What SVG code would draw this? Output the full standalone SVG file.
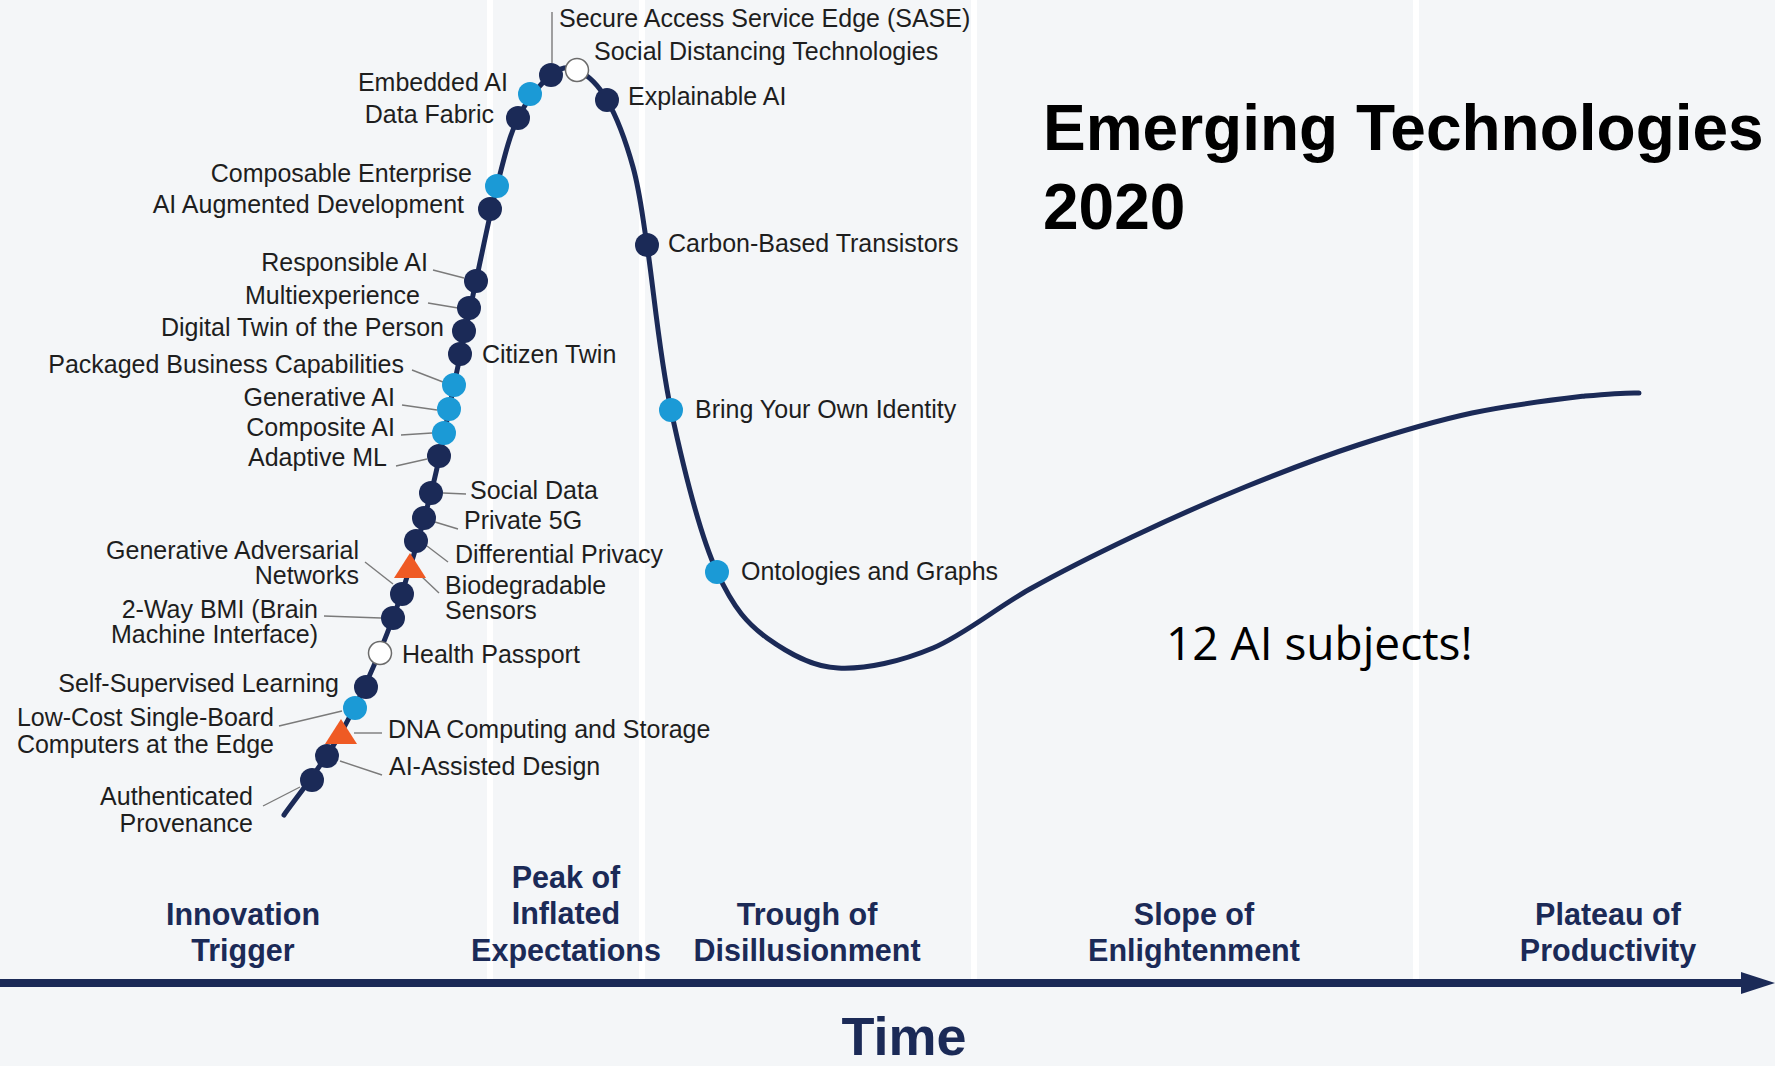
<svg xmlns="http://www.w3.org/2000/svg" width="1775" height="1066" viewBox="0 0 1775 1066">
<defs>
<style>
.lbl{font-family:"Liberation Sans",Arial,sans-serif;font-size:25px;fill:#1e1e1e}
.end{text-anchor:end}
.phase{font-family:"Liberation Sans",Arial,sans-serif;font-size:30.5px;font-weight:bold;fill:#1b2a57;text-anchor:middle}
.dk{fill:#1b2a57}
.lt{fill:#1b9ad6}
.wh{fill:#ffffff;stroke:#6b6b6b;stroke-width:1.5}
.tri{fill:#ef5a24}
.ld{stroke:#7a7a7a;stroke-width:1.4;fill:none}
.sep{fill:#ffffff}
</style>
<marker id="arrow" markerUnits="userSpaceOnUse" markerWidth="36" markerHeight="24" refX="0" refY="12" orient="auto">
<path d="M0,1 L34,12 L0,23 Z" fill="#1b2a57"/>
</marker>
</defs>
<rect x="0" y="0" width="1775" height="1066" fill="#f4f6f8"/>
<g id="separators">
<rect class="sep" x="487" y="0" width="6" height="980"/>
<rect class="sep" x="639" y="0" width="6" height="980"/>
<rect class="sep" x="971" y="0" width="6" height="980"/>
<rect class="sep" x="1413" y="0" width="6" height="980"/>
</g>
<g id="axis">
<line x1="0" y1="983" x2="1741" y2="983" stroke="#1b2a57" stroke-width="8" marker-end="url(#arrow)"/>
</g>
<g id="hype-curve">
<path d="M284,815 C293.7,801 323.8,763.8 342,731 C360.2,698.2 378.2,657.7 393,618 C407.8,578.3 420.8,531.8 431,493 C441.2,454.2 446.5,420.3 454,385 C461.5,349.7 468.8,314.2 476,281 C483.2,247.8 490,213.2 497,186 C504,158.8 509,136.5 518,118 C527,99.5 541.2,83 551,75 C560.8,67 567.7,65.8 577,70 C586.3,74.2 597.7,83.8 607,100 C616.3,116.2 626.3,142.8 633,167 C639.7,191.2 640.7,204.5 647,245 C653.3,285.5 659.3,355.5 671,410 C682.7,464.5 700,534.8 717,572 C734,609.2 748,624 767,638 C788,653 812,667 838,668 C866,669.5 901.8,661.2 933,648 C964.2,634.8 996.8,607.5 1030,589 C1063.2,570.5 1096.2,554 1132,537 C1167.8,520 1207.3,502.3 1245,487 C1282.7,471.7 1320.2,457.3 1358,445 C1395.8,432.7 1434.2,421.2 1472,413 C1509.8,404.8 1557.2,399.3 1585,396 C1612.8,393.5 1630,392.5 1639,393" fill="none" stroke="#1b2a57" stroke-width="5" stroke-linecap="round"/>
</g>
<g id="connectors">
<line class="ld" x1="552" y1="12" x2="552" y2="63"/>
<line class="ld" x1="433" y1="270" x2="464" y2="278"/>
<line class="ld" x1="428" y1="303" x2="458" y2="308"/>
<line class="ld" x1="412" y1="370" x2="443" y2="382"/>
<line class="ld" x1="402" y1="405" x2="437" y2="410"/>
<line class="ld" x1="401" y1="435" x2="432" y2="433"/>
<line class="ld" x1="396" y1="466" x2="427" y2="459"/>
<line class="ld" x1="443" y1="493" x2="466" y2="494"/>
<line class="ld" x1="435" y1="522" x2="458" y2="529"/>
<line class="ld" x1="427" y1="546" x2="448" y2="562"/>
<line class="ld" x1="420" y1="575" x2="439" y2="593"/>
<line class="ld" x1="365" y1="562" x2="393" y2="584"/>
<line class="ld" x1="324" y1="616" x2="381" y2="618"/>
<line class="ld" x1="279" y1="726" x2="342" y2="711"/>
<line class="ld" x1="354" y1="733" x2="382" y2="733"/>
<line class="ld" x1="340" y1="761" x2="382" y2="775"/>
<line class="ld" x1="263" y1="806" x2="300" y2="787"/>
</g>
<g id="n-authenticated-provenance"><circle class="dk" cx="312" cy="780" r="12"/><text class="lbl end" x="253" y="805">Authenticated</text><text class="lbl end" x="253" y="832">Provenance</text></g>
<g id="n-ai-assisted-design"><circle class="dk" cx="327" cy="756" r="12"/><text class="lbl" x="389" y="775">AI-Assisted Design</text></g>
<g id="n-dna-computing"><polygon class="tri" points="341,719 357,744 325,744"/><text class="lbl" x="388" y="738">DNA Computing and Storage</text></g>
<g id="n-low-cost-sbc"><circle class="lt" cx="355" cy="708" r="12"/><text class="lbl end" x="274" y="726">Low-Cost Single-Board</text><text class="lbl end" x="274" y="753">Computers at the Edge</text></g>
<g id="n-self-supervised"><circle class="dk" cx="366" cy="687" r="12"/><text class="lbl end" x="339" y="692">Self-Supervised Learning</text></g>
<g id="n-health-passport"><circle class="wh" cx="380" cy="653" r="11.5"/><text class="lbl" x="402" y="663">Health Passport</text></g>
<g id="n-2way-bmi"><circle class="dk" cx="393" cy="618" r="12"/><text class="lbl end" x="318" y="618">2-Way BMI (Brain</text><text class="lbl end" x="318" y="643">Machine Interface)</text></g>
<g id="n-gan"><circle class="dk" cx="402" cy="594" r="12"/><text class="lbl end" x="359" y="559">Generative Adversarial</text><text class="lbl end" x="359" y="584">Networks</text></g>
<g id="n-differential-privacy"><circle class="dk" cx="416" cy="541" r="12"/><text class="lbl" x="455" y="563">Differential Privacy</text></g>
<g id="n-biodegradable-sensors"><polygon class="tri" points="410,553 426,578 394,578"/><text class="lbl" x="445" y="594">Biodegradable</text><text class="lbl" x="445" y="619">Sensors</text></g>
<g id="n-private-5g"><circle class="dk" cx="424" cy="518" r="12"/><text class="lbl" x="464" y="529">Private 5G</text></g>
<g id="n-social-data"><circle class="dk" cx="431" cy="493" r="12"/><text class="lbl" x="470" y="499">Social Data</text></g>
<g id="n-adaptive-ml"><circle class="dk" cx="439" cy="456" r="12"/><text class="lbl end" x="387" y="466">Adaptive ML</text></g>
<g id="n-composite-ai"><circle class="lt" cx="444" cy="433" r="12"/><text class="lbl end" x="395" y="436">Composite AI</text></g>
<g id="n-generative-ai"><circle class="lt" cx="449" cy="409" r="12"/><text class="lbl end" x="395" y="406">Generative AI</text></g>
<g id="n-packaged-business"><circle class="lt" cx="454" cy="385" r="12"/><text class="lbl end" x="404" y="373">Packaged Business Capabilities</text></g>
<g id="n-citizen-twin"><circle class="dk" cx="460" cy="354" r="12"/><text class="lbl" x="482" y="363">Citizen Twin</text></g>
<g id="n-digital-twin-person"><circle class="dk" cx="464" cy="331" r="12"/><text class="lbl end" x="444" y="336">Digital Twin of the Person</text></g>
<g id="n-multiexperience"><circle class="dk" cx="469" cy="308" r="12"/><text class="lbl end" x="420" y="304">Multiexperience</text></g>
<g id="n-responsible-ai"><circle class="dk" cx="476" cy="281" r="12"/><text class="lbl end" x="428" y="271">Responsible AI</text></g>
<g id="n-ai-augmented-dev"><circle class="dk" cx="490" cy="209" r="12"/><text class="lbl end" x="464" y="213">AI Augmented Development</text></g>
<g id="n-composable-enterprise"><circle class="lt" cx="497" cy="186" r="12"/><text class="lbl end" x="472" y="182">Composable Enterprise</text></g>
<g id="n-data-fabric"><circle class="dk" cx="518" cy="118" r="12"/><text class="lbl end" x="494" y="123">Data Fabric</text></g>
<g id="n-embedded-ai"><circle class="lt" cx="530" cy="94" r="12"/><text class="lbl end" x="508" y="91">Embedded AI</text></g>
<g id="n-sase"><circle class="dk" cx="551" cy="75" r="12"/><text class="lbl" x="559" y="27">Secure Access Service Edge (SASE)</text></g>
<g id="n-social-distancing"><circle class="wh" cx="577" cy="70" r="11.5"/><text class="lbl" x="594" y="60">Social Distancing Technologies</text></g>
<g id="n-explainable-ai"><circle class="dk" cx="607" cy="100" r="12"/><text class="lbl" x="628" y="105">Explainable AI</text></g>
<g id="n-carbon-transistors"><circle class="dk" cx="647" cy="245" r="12"/><text class="lbl" x="668" y="252">Carbon-Based Transistors</text></g>
<g id="n-byoi"><circle class="lt" cx="671" cy="410" r="12"/><text class="lbl" x="695" y="418">Bring Your Own Identity</text></g>
<g id="n-ontologies"><circle class="lt" cx="717" cy="572" r="12"/><text class="lbl" x="741" y="580">Ontologies and Graphs</text></g>
<g id="phases">
<text class="phase" x="243" y="925">Innovation</text><text class="phase" x="243" y="961">Trigger</text>
<text class="phase" x="566" y="888">Peak of</text><text class="phase" x="566" y="924">Inflated</text><text class="phase" x="566" y="961">Expectations</text>
<text class="phase" x="807" y="925">Trough of</text><text class="phase" x="807" y="961">Disillusionment</text>
<text class="phase" x="1194" y="925">Slope of</text><text class="phase" x="1194" y="961">Enlightenment</text>
<text class="phase" x="1608" y="925">Plateau of</text><text class="phase" x="1608" y="961">Productivity</text>
</g>
<text id="time" x="904" y="1055" font-family="Liberation Sans, Arial, sans-serif" font-size="54" font-weight="bold" fill="#1b2a57" text-anchor="middle">Time</text>
<g id="title" font-family="Liberation Sans, Arial, sans-serif" font-size="64" font-weight="bold" fill="#000000">
<text x="1043" y="150">Emerging Technologies</text>
<text x="1043" y="229">2020</text>
</g>
<text id="note" x="1166" y="660" font-family="Open Sans, Noto Sans, sans-serif" font-size="46" fill="#000000">12 AI subjects!</text>
</svg>
